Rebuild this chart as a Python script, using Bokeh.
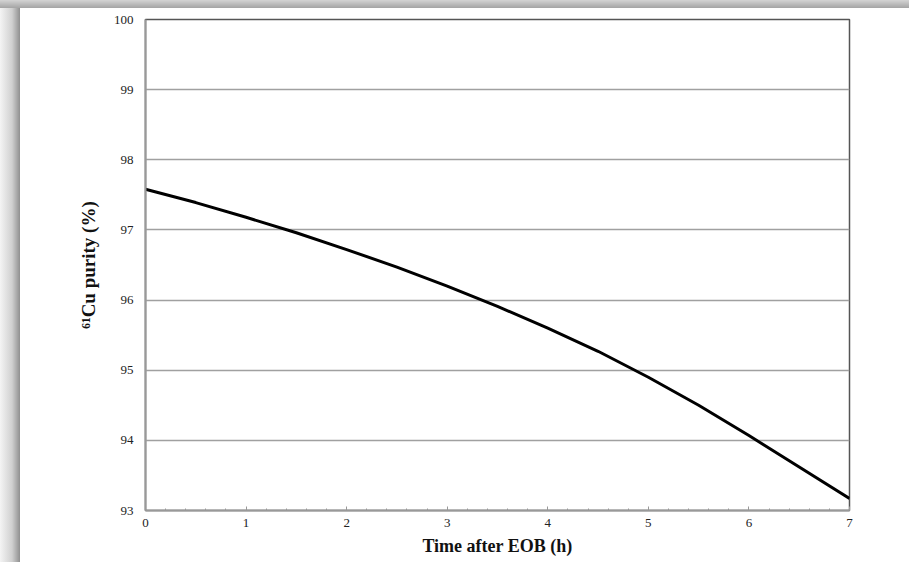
from bokeh.plotting import figure
from bokeh.embed import file_html
from bokeh.resources import INLINE
from bokeh.models import FixedTicker, Range1d

# data
time_h = [0, 0.5, 1, 1.5, 2, 2.5, 3, 3.5, 4, 4.5, 5, 5.5, 6, 6.5, 7]
purity = [97.58, 97.39, 97.18, 96.96, 96.72, 96.47, 96.20, 95.91, 95.60,
          95.27, 94.90, 94.50, 94.07, 93.62, 93.17]
x_ticks = [0, 1, 2, 3, 4, 5, 6, 7]
y_ticks = [93, 94, 95, 96, 97, 98, 99, 100]

W, H = 909, 562
p = figure(width=W, height=H, output_backend="svg", toolbar_location=None,
           x_range=Range1d(0, 7), y_range=Range1d(93, 100),
           min_border_left=145, min_border_right=W - 849, min_border_top=19,
           min_border_bottom=H - 510)
p.background_fill_color = "white"
p.border_fill_color = None
p.styles = {
    "background": (
        "linear-gradient(to bottom, #d4d4d4, #a4a4a4) top left / 100% 8px no-repeat, "
        "linear-gradient(to right, #f4f4f4, #d0d0d0 60%, #909090) top left / 20px 100% no-repeat, "
        "white"
    )
}
p.outline_line_color = "#555555"
p.outline_line_width = 1.5

p.xgrid.visible = False
p.ygrid.grid_line_color = "#a0a0a0"
p.ygrid.grid_line_width = 1.6

p.line(time_h, purity, line_color="black", line_width=3)

serif = "Liberation Serif"
p.xaxis.ticker = FixedTicker(ticks=x_ticks,
                             minor_ticks=[i / 5 for i in range(0, 36)])
p.yaxis.ticker = FixedTicker(ticks=y_ticks)
for ax in (p.xaxis[0], p.yaxis[0]):
    ax.axis_line_color = "#999999"
    ax.axis_line_width = 2
    ax.major_label_text_font = serif
    ax.major_label_text_font_size = "13px"
    ax.major_label_text_color = "#222222"
    ax.axis_label_text_font = serif
    ax.axis_label_text_font_style = "bold"
    ax.axis_label_text_font_size = "18px"
    ax.axis_label_text_color = "#111111"

p.yaxis.axis_label_text_font_size = "19px"

p.xaxis.major_tick_in = 4
p.xaxis.major_tick_out = 0
p.xaxis.minor_tick_in = 2
p.xaxis.minor_tick_out = 0
p.xaxis.major_tick_line_color = "#999999"
p.xaxis.minor_tick_line_color = "#999999"
p.xaxis.major_label_standoff = 8
p.xaxis.axis_label = "Time after EOB (h)"
p.xaxis.axis_label_standoff = 6

p.yaxis.major_tick_in = 0
p.yaxis.major_tick_out = 0
p.yaxis.minor_tick_line_color = None
p.yaxis.major_label_standoff = 12
p.yaxis.axis_label = "\u2076\u00b9Cu purity (%)"
p.yaxis.axis_label_standoff = 12

open("out.html", "w").write(file_html(p, INLINE))
